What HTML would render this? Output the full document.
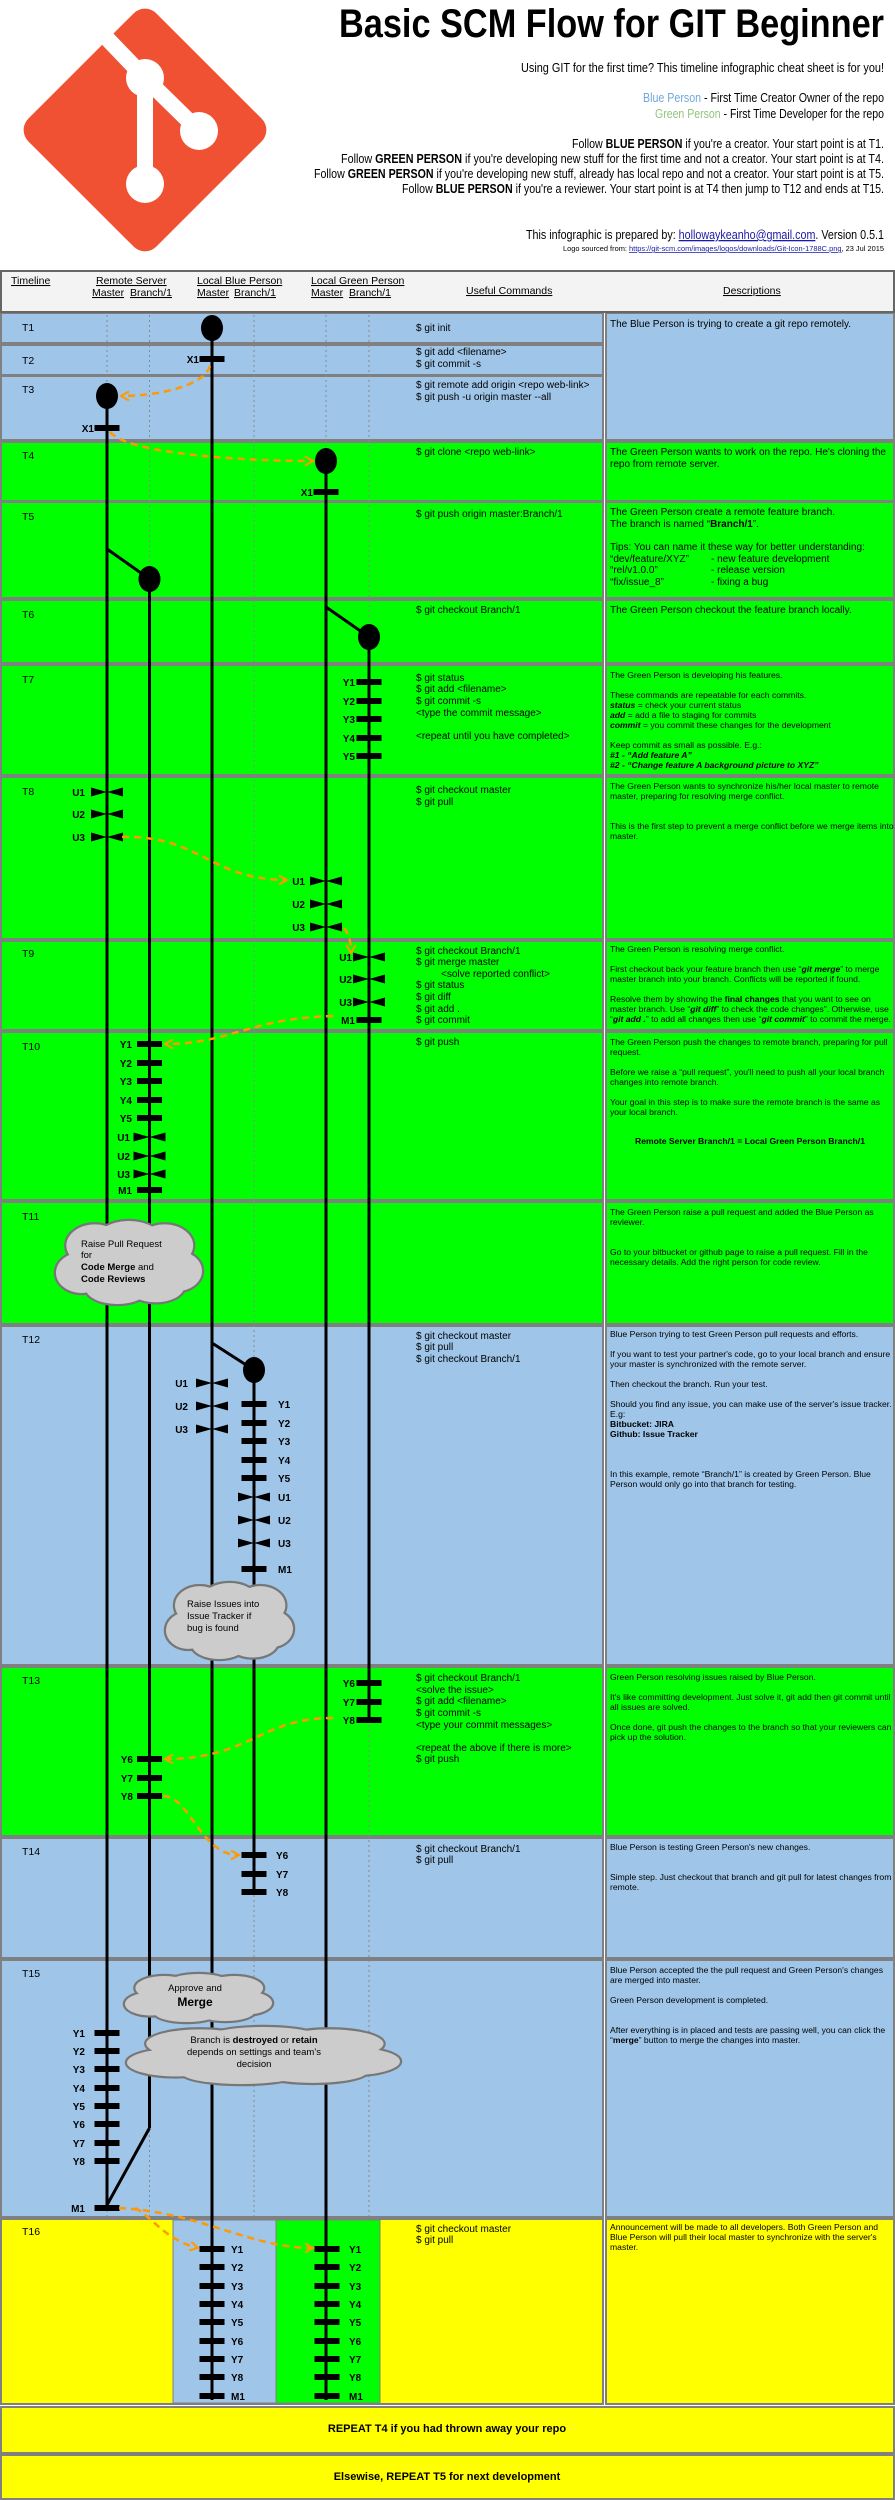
<!DOCTYPE html>
<html><head><meta charset="utf-8"><style>
html,body{margin:0;padding:0;background:#fff}
svg{display:block}
text{font-family:"Liberation Sans",Arial,sans-serif;fill:#000}
.c{font-size:10px}
.d{font-size:10px}
.s{font-size:8.6px}
.l{font-size:10px;font-weight:bold}
.t{font-size:10.5px}
.h{font-size:10.5px;text-decoration:underline}
.hd{font-size:13px}
</style></head><body>
<svg id="sv" width="895" height="2500" viewBox="0 0 895 2500" xmlns="http://www.w3.org/2000/svg">
<defs>
<marker id="ar" markerUnits="userSpaceOnUse" markerWidth="12" markerHeight="12" refX="9" refY="5" orient="auto">
<path d="M1,0.5 L9,5 L1,9.5" fill="none" stroke="#f90" stroke-width="2"/>
</marker>
</defs>
<g id="bg"></g>
<!-- logo -->
<rect x="54.5" y="39.5" width="181" height="181" rx="16" fill="#f05133" transform="rotate(45 145 130)"/>
<g stroke="#fff" stroke-width="16" fill="none">
<line x1="98" y1="29" x2="145" y2="78"/>
<line x1="145" y1="78" x2="199" y2="131"/>
<line x1="145" y1="78" x2="145" y2="184"/>
</g>
<g fill="#fff"><circle cx="145" cy="78" r="19"/><circle cx="199" cy="131" r="19"/><circle cx="145" cy="184" r="19"/></g>
<!-- header text -->
<text x="339" y="37" font-size="40" font-weight="bold" textLength="545" lengthAdjust="spacingAndGlyphs">Basic SCM Flow for GIT Beginner</text>
<text class="hd" x="521" y="72" textLength="363" lengthAdjust="spacingAndGlyphs">Using GIT for the first time? This timeline infographic cheat sheet is for you!</text>
<text class="hd" x="643" y="102" textLength="241" lengthAdjust="spacingAndGlyphs"><tspan style="fill:#6fa8dc">Blue Person</tspan> - First Time Creator Owner of the repo</text>
<text class="hd" x="655" y="118" textLength="229" lengthAdjust="spacingAndGlyphs"><tspan style="fill:#93c47d">Green Person</tspan> - First Time Developer for the repo</text>
<text class="hd" x="572" y="148" textLength="312" lengthAdjust="spacingAndGlyphs">Follow <tspan font-weight="bold">BLUE PERSON</tspan> if you're a creator. Your start point is at T1.</text>
<text class="hd" x="341" y="163" textLength="543" lengthAdjust="spacingAndGlyphs">Follow <tspan font-weight="bold">GREEN PERSON</tspan> if you're developing new stuff for the first time and not a creator. Your start point is at T4.</text>
<text class="hd" x="314" y="178" textLength="570" lengthAdjust="spacingAndGlyphs">Follow <tspan font-weight="bold">GREEN PERSON</tspan> if you're developing new stuff, already has local repo and not a creator. Your start point is at T5.</text>
<text class="hd" x="402" y="193" textLength="482" lengthAdjust="spacingAndGlyphs">Follow <tspan font-weight="bold">BLUE PERSON</tspan> if you're a reviewer. Your start point is at T4 then jump to T12 and ends at T15.</text>
<text class="hd" x="526" y="239" textLength="358" lengthAdjust="spacingAndGlyphs">This infographic is prepared by: <tspan style="fill:#1a1aa6;text-decoration:underline">hollowaykeanho@gmail.com</tspan>. Version 0.5.1</text>
<text x="563" y="251" font-size="7.5" textLength="321" lengthAdjust="spacingAndGlyphs">Logo sourced from: <tspan style="fill:#1a1aa6;text-decoration:underline">https://git-scm.com/images/logos/downloads/Git-Icon-1788C.png</tspan>, 23 Jul 2015</text>
<!-- table header -->
<rect x="1" y="271" width="893" height="41" fill="#f3f3f3" stroke="#666" stroke-width="2"/>
<text class="h" x="11" y="284">Timeline</text>
<text class="h" x="96" y="284">Remote Server</text>
<text class="h" x="92" y="296">Master</text><text class="h" x="130" y="296">Branch/1</text>
<text class="h" x="197" y="284">Local Blue Person</text>
<text class="h" x="197" y="296">Master</text><text class="h" x="234" y="296">Branch/1</text>
<text class="h" x="311" y="284">Local Green Person</text>
<text class="h" x="311" y="296">Master</text><text class="h" x="349" y="296">Branch/1</text>
<text class="h" x="466" y="294">Useful Commands</text>
<text class="h" x="723" y="294">Descriptions</text>
<g id="fg"></g>
<!-- T labels -->
<g class="t">
<text class="t" x="22" y="331">T1</text><text class="t" x="22" y="364">T2</text><text class="t" x="22" y="393">T3</text>
<text class="t" x="22" y="459">T4</text><text class="t" x="22" y="520">T5</text><text class="t" x="22" y="618">T6</text>
<text class="t" x="22" y="683">T7</text><text class="t" x="22" y="795">T8</text><text class="t" x="22" y="957">T9</text>
<text class="t" x="22" y="1050">T10</text><text class="t" x="22" y="1220">T11</text><text class="t" x="22" y="1343">T12</text>
<text class="t" x="22" y="1684">T13</text><text class="t" x="22" y="1855">T14</text><text class="t" x="22" y="1977">T15</text>
<text class="t" x="22" y="2235">T16</text>
</g>
<!-- commands -->
<text class="c" x="416" y="331">$ git init</text>
<text class="c" x="416" y="355">$ git add &lt;filename&gt;</text><text class="c" x="416" y="367">$ git commit -s</text>
<text class="c" x="416" y="388">$ git remote add origin &lt;repo web-link&gt;</text><text class="c" x="416" y="400">$ git push -u origin master --all</text>
<text class="c" x="416" y="455">$ git clone &lt;repo web-link&gt;</text>
<text class="c" x="416" y="517">$ git push origin master:Branch/1</text>
<text class="c" x="416" y="613">$ git checkout Branch/1</text>
<text class="c" x="416" y="681">$ git status</text><text class="c" x="416" y="692">$ git add &lt;filename&gt;</text><text class="c" x="416" y="704">$ git commit -s</text><text class="c" x="416" y="716">&lt;type the commit message&gt;</text><text class="c" x="416" y="739">&lt;repeat until you have completed&gt;</text>
<text class="c" x="416" y="793">$ git checkout master</text><text class="c" x="416" y="805">$ git pull</text>
<text class="c" x="416" y="954">$ git checkout Branch/1</text><text class="c" x="416" y="965">$ git merge master</text><text class="c" x="441" y="977">&lt;solve reported conflict&gt;</text><text class="c" x="416" y="988">$ git status</text><text class="c" x="416" y="1000">$ git diff</text><text class="c" x="416" y="1012">$ git add .</text><text class="c" x="416" y="1023">$ git commit</text>
<text class="c" x="416" y="1045">$ git push</text>
<text class="c" x="416" y="1339">$ git checkout master</text><text class="c" x="416" y="1350">$ git pull</text><text class="c" x="416" y="1362">$ git checkout Branch/1</text>
<text class="c" x="416" y="1681">$ git checkout Branch/1</text><text class="c" x="416" y="1693">&lt;solve the issue&gt;</text><text class="c" x="416" y="1704">$ git add &lt;filename&gt;</text><text class="c" x="416" y="1716">$ git commit -s</text><text class="c" x="416" y="1728">&lt;type your commit messages&gt;</text><text class="c" x="416" y="1751">&lt;repeat the above if there is more&gt;</text><text class="c" x="416" y="1762">$ git push</text>
<text class="c" x="416" y="1852">$ git checkout Branch/1</text><text class="c" x="416" y="1863">$ git pull</text>
<text class="c" x="416" y="2232">$ git checkout master</text><text class="c" x="416" y="2243">$ git pull</text>
<!-- descriptions -->
<text class="d" x="610" y="327">The Blue Person is trying to create a git repo remotely.</text>
<text class="d" x="610" y="455">The Green Person wants to work on the repo. He's cloning the</text><text class="d" x="610" y="467">repo from remote server.</text>
<text class="d" x="610" y="515">The Green Person create a remote feature branch.</text>
<text class="d" x="610" y="527">The branch is  named “<tspan font-weight="bold">Branch/1</tspan>”.</text>
<text class="d" x="610" y="550">Tips: You can name it these way for better understanding:</text>
<text class="d" x="610" y="562">“dev/feature/XYZ”</text><text class="d" x="711" y="562">- new feature development</text>
<text class="d" x="610" y="573">“rel/v1.0.0”</text><text class="d" x="711" y="573">- release version</text>
<text class="d" x="610" y="585">“fix/issue_8”</text><text class="d" x="711" y="585">- fixing a bug</text>
<text class="d" x="610" y="613">The Green Person checkout the feature branch locally.</text>
<text class="s" x="610" y="678">The Green Person is developing his features.</text>
<text class="s" x="610" y="698">These commands are repeatable for each commits.</text>
<text class="s" x="610" y="708"><tspan font-weight="bold" font-style="italic">status</tspan> = check your current status</text>
<text class="s" x="610" y="718"><tspan font-weight="bold" font-style="italic">add</tspan> = add a file to staging for commits</text>
<text class="s" x="610" y="728"><tspan font-weight="bold" font-style="italic">commit</tspan> = you commit these changes for the development</text>
<text class="s" x="610" y="748">Keep commit as small as possible. E.g.:</text>
<text class="s" x="610" y="758" font-weight="bold" font-style="italic">#1 - “Add feature A”</text>
<text class="s" x="610" y="768" font-weight="bold" font-style="italic">#2 - “Change feature A background picture to XYZ”</text>
<text class="s" x="610" y="789">The Green Person wants to synchronize his/her local master to remote</text>
<text class="s" x="610" y="799">master, preparing for resolving merge conflict.</text>
<text class="s" x="610" y="829">This is the first step to prevent a merge conflict before we merge items into</text>
<text class="s" x="610" y="839">master.</text>
<text class="s" x="610" y="952">The Green Person is resolving merge conflict.</text>
<text class="s" x="610" y="972">First checkout back your feature branch then use “<tspan font-weight="bold" font-style="italic">git merge</tspan>” to merge</text>
<text class="s" x="610" y="982">master branch into your branch. Conflicts will be reported if found.</text>
<text class="s" x="610" y="1002">Resolve them by showing the <tspan font-weight="bold">final changes</tspan> that you want to see on</text>
<text class="s" x="610" y="1012">master branch. Use “<tspan font-weight="bold" font-style="italic">git diff</tspan>” to check the code changes”. Otherwise, use</text>
<text class="s" x="610" y="1022">“<tspan font-weight="bold" font-style="italic">git add .</tspan>” to add all changes then use “<tspan font-weight="bold" font-style="italic">git commit</tspan>” to commit the merge.</text>
<text class="s" x="610" y="1045">The Green Person push the changes to remote branch, preparing for pull</text>
<text class="s" x="610" y="1055">request.</text>
<text class="s" x="610" y="1075">Before we raise a “pull request”, you'll need to push all your local branch</text>
<text class="s" x="610" y="1085">changes into remote branch.</text>
<text class="s" x="610" y="1105">Your goal in this step is to make sure the remote branch is the same as</text>
<text class="s" x="610" y="1115">your local branch.</text>
<text class="s" x="750" y="1144" text-anchor="middle" font-weight="bold">Remote Server Branch/1 = Local Green Person Branch/1</text>
<text class="s" x="610" y="1215">The Green Person raise a pull request and added the Blue Person as</text>
<text class="s" x="610" y="1225">reviewer.</text>
<text class="s" x="610" y="1255">Go to your bitbucket or github page to raise a pull request. Fill in the</text>
<text class="s" x="610" y="1265">necessary details. Add the right person for code review.</text>
<text class="s" x="610" y="1337">Blue Person trying to test Green Person pull requests and efforts.</text>
<text class="s" x="610" y="1357">If you want to test your partner's code, go to your local branch and ensure</text>
<text class="s" x="610" y="1367">your master is synchronized with the remote server.</text>
<text class="s" x="610" y="1387">Then checkout the branch. Run your test.</text>
<text class="s" x="610" y="1407">Should you find any issue, you can make use of the server's issue tracker.</text>
<text class="s" x="610" y="1417">E.g:</text>
<text class="s" x="610" y="1427" font-weight="bold">Bitbucket: JIRA</text>
<text class="s" x="610" y="1437" font-weight="bold">Github: Issue Tracker</text>
<text class="s" x="610" y="1477">In this example, remote “Branch/1” is created by Green Person. Blue</text>
<text class="s" x="610" y="1487">Person would only go into that branch for testing.</text>
<text class="s" x="610" y="1680">Green Person resolving issues raised by Blue Person.</text>
<text class="s" x="610" y="1700">It's like committing development. Just solve it, git add then git commit until</text>
<text class="s" x="610" y="1710">all issues are solved.</text>
<text class="s" x="610" y="1730">Once done, git push the changes to the branch so that your reviewers can</text>
<text class="s" x="610" y="1740">pick up the solution.</text>
<text class="s" x="610" y="1850">Blue Person is testing Green Person's new changes.</text>
<text class="s" x="610" y="1880">Simple step. Just checkout that branch and git pull for latest changes from</text>
<text class="s" x="610" y="1890">remote.</text>
<text class="s" x="610" y="1973">Blue Person accepted the the pull request and Green Person's changes</text>
<text class="s" x="610" y="1983">are merged into master.</text>
<text class="s" x="610" y="2003">Green Person development is completed.</text>
<text class="s" x="610" y="2033">After everything is in placed and tests are passing well, you can click the</text>
<text class="s" x="610" y="2043">“<tspan font-weight="bold">merge</tspan>” button to merge the changes into master.</text>
<text class="s" x="610" y="2230">Announcement will be made to all developers. Both Green Person and</text>
<text class="s" x="610" y="2240">Blue Person will pull their local master to synchronize with the server's</text>
<text class="s" x="610" y="2250">master.</text>
<text x="447" y="2432" font-size="11" font-weight="bold" text-anchor="middle">REPEAT T4 if you had thrown away your repo</text>
<text x="447" y="2480" font-size="11" font-weight="bold" text-anchor="middle">Elsewise, REPEAT T5 for next development</text>
<!-- commit labels -->
<g class="l">
<text class="l" x="199" y="363" text-anchor="end">X1</text>
<text class="l" x="94" y="432" text-anchor="end">X1</text>
<text class="l" x="313" y="496" text-anchor="end">X1</text>
<text class="l" x="355" y="686" text-anchor="end">Y1</text><text class="l" x="355" y="705" text-anchor="end">Y2</text><text class="l" x="355" y="723" text-anchor="end">Y3</text><text class="l" x="355" y="742" text-anchor="end">Y4</text><text class="l" x="355" y="760" text-anchor="end">Y5</text>
<text class="l" x="85" y="796" text-anchor="end">U1</text><text class="l" x="85" y="818" text-anchor="end">U2</text><text class="l" x="85" y="841" text-anchor="end">U3</text>
<text class="l" x="305" y="885" text-anchor="end">U1</text><text class="l" x="305" y="908" text-anchor="end">U2</text><text class="l" x="305" y="931" text-anchor="end">U3</text>
<text class="l" x="352" y="961" text-anchor="end">U1</text><text class="l" x="352" y="983" text-anchor="end">U2</text><text class="l" x="352" y="1006" text-anchor="end">U3</text><text class="l" x="355" y="1024" text-anchor="end">M1</text>
<text class="l" x="132" y="1048" text-anchor="end">Y1</text><text class="l" x="132" y="1067" text-anchor="end">Y2</text><text class="l" x="132" y="1085" text-anchor="end">Y3</text><text class="l" x="132" y="1104" text-anchor="end">Y4</text><text class="l" x="132" y="1122" text-anchor="end">Y5</text>
<text class="l" x="130" y="1141" text-anchor="end">U1</text><text class="l" x="130" y="1160" text-anchor="end">U2</text><text class="l" x="130" y="1178" text-anchor="end">U3</text><text class="l" x="132" y="1194" text-anchor="end">M1</text>
<text class="l" x="188" y="1387" text-anchor="end">U1</text><text class="l" x="188" y="1410" text-anchor="end">U2</text><text class="l" x="188" y="1433" text-anchor="end">U3</text>
<text class="l" x="278" y="1408">Y1</text><text class="l" x="278" y="1427">Y2</text><text class="l" x="278" y="1445">Y3</text><text class="l" x="278" y="1464">Y4</text><text class="l" x="278" y="1482">Y5</text>
<text class="l" x="278" y="1501">U1</text><text class="l" x="278" y="1524">U2</text><text class="l" x="278" y="1547">U3</text><text class="l" x="278" y="1573">M1</text>
<text class="l" x="355" y="1687" text-anchor="end">Y6</text><text class="l" x="355" y="1706" text-anchor="end">Y7</text><text class="l" x="355" y="1724" text-anchor="end">Y8</text>
<text class="l" x="133" y="1763" text-anchor="end">Y6</text><text class="l" x="133" y="1782" text-anchor="end">Y7</text><text class="l" x="133" y="1800" text-anchor="end">Y8</text>
<text class="l" x="276" y="1859">Y6</text><text class="l" x="276" y="1878">Y7</text><text class="l" x="276" y="1896">Y8</text>
<text class="l" x="85" y="2037" text-anchor="end">Y1</text><text class="l" x="85" y="2055" text-anchor="end">Y2</text><text class="l" x="85" y="2073" text-anchor="end">Y3</text><text class="l" x="85" y="2092" text-anchor="end">Y4</text><text class="l" x="85" y="2110" text-anchor="end">Y5</text><text class="l" x="85" y="2128" text-anchor="end">Y6</text><text class="l" x="85" y="2147" text-anchor="end">Y7</text><text class="l" x="85" y="2165" text-anchor="end">Y8</text>
<text class="l" x="85" y="2212" text-anchor="end">M1</text>
<text class="l" x="231" y="2253">Y1</text><text class="l" x="231" y="2271">Y2</text><text class="l" x="231" y="2290">Y3</text><text class="l" x="231" y="2308">Y4</text><text class="l" x="231" y="2326">Y5</text><text class="l" x="231" y="2345">Y6</text><text class="l" x="231" y="2363">Y7</text><text class="l" x="231" y="2381">Y8</text><text class="l" x="231" y="2400">M1</text>
<text class="l" x="349" y="2253">Y1</text><text class="l" x="349" y="2271">Y2</text><text class="l" x="349" y="2290">Y3</text><text class="l" x="349" y="2308">Y4</text><text class="l" x="349" y="2326">Y5</text><text class="l" x="349" y="2345">Y6</text><text class="l" x="349" y="2363">Y7</text><text class="l" x="349" y="2381">Y8</text><text class="l" x="349" y="2400">M1</text>
</g>
<g id="cl"></g>
<!-- cloud texts -->
<text x="81" y="1247" font-size="9.5">Raise Pull Request</text>
<text x="81" y="1258" font-size="9.5">for</text>
<text x="81" y="1270" font-size="9.5"><tspan font-weight="bold">Code Merge</tspan> and</text>
<text x="81" y="1282" font-size="9.5" font-weight="bold">Code Reviews</text>
<text x="187" y="1607" font-size="9.5">Raise Issues into</text>
<text x="187" y="1619" font-size="9.5">Issue Tracker if</text>
<text x="187" y="1631" font-size="9.5">bug is found</text>
<text x="195" y="1991" font-size="9.5" text-anchor="middle">Approve and</text>
<text x="195" y="2006" font-size="12" font-weight="bold" text-anchor="middle">Merge</text>
<text x="254" y="2043" font-size="9.5" text-anchor="middle">Branch is <tspan font-weight="bold">destroyed</tspan> or <tspan font-weight="bold">retain</tspan></text>
<text x="254" y="2055" font-size="9.5" text-anchor="middle">depends on settings and team’s</text>
<text x="254" y="2067" font-size="9.5" text-anchor="middle">decision</text>
</svg>
<script>
(function(){
var NS="http://www.w3.org/2000/svg";
function el(p,n,a){var e=document.createElementNS(NS,n);for(var k in a)e.setAttribute(k,a[k]);p.appendChild(e);return e;}
var bg=document.getElementById("bg"),fg=document.getElementById("fg"),cl=document.getElementById("cl");
var B="#9fc5e8",G="#00ff00",Y="#ffff00";
var rows=[[313,343,B],[345,375,B],[376,440,B],[442,501,G],[502,598,G],[600,663,G],[665,775,G],[777,939,G],[941,1030,G],[1032,1200,G],[1202,1324,G],[1326,1665,B],[1667,1836,G],[1838,1958,B],[1960,2217,B],[2219,2404,Y]];
rows.forEach(function(r,i){
 el(bg,"rect",{x:1,y:r[0],width:602,height:r[1]-r[0],fill:r[2],stroke:"#808080","stroke-width":2});
 if(i>2) el(bg,"rect",{x:606,y:r[0],width:288,height:r[1]-r[0],fill:r[2],stroke:"#808080","stroke-width":2});
});
el(bg,"rect",{x:606,y:313,width:288,height:127,fill:B,stroke:"#808080","stroke-width":2});
el(bg,"rect",{x:173,y:2220,width:103,height:183,fill:B,stroke:"#808080","stroke-width":1});
el(bg,"rect",{x:276,y:2220,width:104,height:183,fill:G,stroke:"#808080","stroke-width":1});
el(bg,"rect",{x:1,y:2407,width:893,height:46,fill:Y,stroke:"#808080","stroke-width":2});
el(bg,"rect",{x:1,y:2455,width:893,height:44,fill:Y,stroke:"#808080","stroke-width":2});
[107,149.5,212,254,326,369].forEach(function(x){
 el(bg,"line",{x1:x,y1:300,x2:x,y2:2217,stroke:"#888","stroke-width":1,"stroke-dasharray":"2,3"});
});
function L(x1,y1,x2,y2){el(fg,"line",{x1:x1,y1:y1,x2:x2,y2:y2,stroke:"#000","stroke-width":3});}
L(212,328,212,2400);L(107,396,107,2208);L(326,461,326,2400);
L(107,549,149.5,579);L(149.5,579,149.5,2128);L(149.5,2128,107,2205);
L(326,607,369,637);L(369,637,369,1720);
L(212,1343,254,1370);L(254,1370,254,1895);
[[212,328],[107,396],[326,461],[149.5,579],[369,637],[254,1370]].forEach(function(c){
 el(fg,"ellipse",{cx:c[0],cy:c[1],rx:11,ry:13,fill:"#000"});});
function bar(cx,y){el(fg,"rect",{x:cx-12.5,y:y-3,width:25,height:6,fill:"#000"});}
function bow(cx,y){el(fg,"path",{d:"M"+(cx-16)+","+(y-4.5)+"L"+cx+","+y+"L"+(cx-16)+","+(y+4.5)+"Z M"+(cx+16)+","+(y-4.5)+"L"+cx+","+y+"L"+(cx+16)+","+(y+4.5)+"Z",fill:"#000"});}
bar(212,359);bar(107,428);bar(326,492);
[682,701,719,738,756,1020,1683,1702,1720].forEach(function(y){bar(369,y);});
[1044,1063,1081,1100,1118,1190,1759,1778,1796].forEach(function(y){bar(149.5,y);});
[1404,1423,1441,1460,1478,1569,1855,1874,1892].forEach(function(y){bar(254,y);});
[2033,2051,2069,2088,2106,2124,2143,2161,2208].forEach(function(y){bar(107,y);});
[2249,2267,2286,2304,2322,2341,2359,2377,2396].forEach(function(y){bar(212,y);bar(327,y);});
[792,814,837].forEach(function(y){bow(107,y);});
[881,904,927].forEach(function(y){bow(326,y);});
[957,979,1002].forEach(function(y){bow(369,y);});
[1137,1156,1174].forEach(function(y){bow(149.5,y);});
[1383,1406,1429].forEach(function(y){bow(212,y);});
[1497,1520,1543].forEach(function(y){bow(254,y);});
var arrows=["M210,366 C205,385 160,396 121,396","M110,432 C130,455 250,461 313,461","M122,837 C200,835 210,880 287,880","M344,928 C350,935 351,945 351,953","M333,1016 C250,1018 230,1044 165,1044","M333,1718 C260,1718 250,1759 165,1759","M163,1796 C190,1796 200,1855 239,1855","M135,2208 C150,2215 165,2240 198,2248","M119,2208 C200,2212 250,2248 313,2248"];
arrows.forEach(function(d){el(fg,"path",{d:d,fill:"none",stroke:"#f90","stroke-width":2.5,"stroke-dasharray":"7,5","marker-end":"url(#ar)"});});
function cloud(x,y,w,h){
 var e=[[.5,.5,.4,.36],[.27,.3,.2,.26],[.5,.22,.22,.22],[.74,.3,.2,.26],[.18,.62,.18,.25],[.82,.6,.18,.25],[.42,.8,.22,.2],[.68,.78,.2,.2]];
 var g=el(cl,"g",{});
 e.forEach(function(a){el(g,"ellipse",{cx:x+w*a[0],cy:y+h*a[1],rx:w*a[2],ry:h*a[3],fill:"#ccc",stroke:"#777","stroke-width":2.5});});
 e.forEach(function(a){el(g,"ellipse",{cx:x+w*a[0],cy:y+h*a[1],rx:w*a[2]-1,ry:h*a[3]-1,fill:"#ccc"});});
}
cloud(55,1220,148,85);cloud(165,1582,129,78);cloud(124,1973,149,50);cloud(126,2026,275,59);
})();
</script>
</body></html>
